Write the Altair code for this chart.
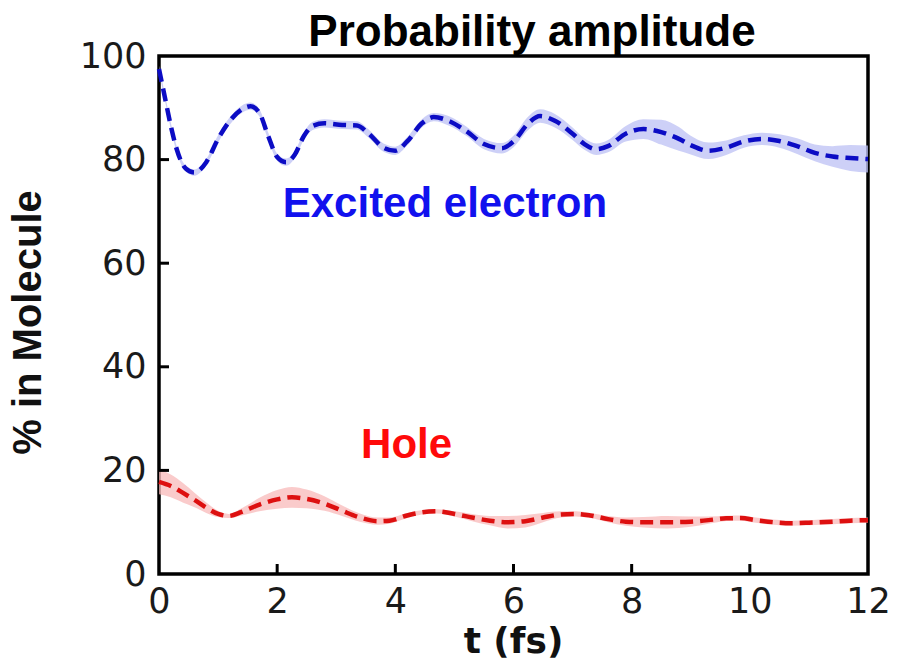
import altair as alt
import pandas as pd

# Excited electron (blue) mean curve and band half-width
blue_t = [0, 0.1, 0.2, 0.3, 0.45, 0.6, 0.8, 1.0, 1.2, 1.4, 1.55, 1.7, 1.85, 2.0, 2.15,
          2.3, 2.45, 2.6, 2.8, 3.1, 3.35, 3.55, 3.8, 4.0, 4.2, 4.45, 4.65, 4.9, 5.2,
          5.5, 5.8, 6.0, 6.25, 6.45, 6.7, 7.0, 7.2, 7.4, 7.6, 7.9, 8.2, 8.5, 8.8, 9.0,
          9.3, 9.6, 9.9, 10.2, 10.5, 10.8, 11.1, 11.4, 11.7, 12.0]
blue_y = [97.5, 92, 86.5, 82, 78.3, 77.5, 79.5, 84, 87.5, 89.7, 90.3, 89, 84.5, 80.5, 79.5,
          81, 84.5, 86.5, 87, 86.7, 86.6, 85, 82.3, 81.7, 83.5, 87, 88.2, 87.5, 85.5,
          83, 82.2, 83.5, 87, 88.4, 87.5, 85, 83, 82, 82.6, 85, 85.9, 85.3, 84, 82.8,
          81.7, 82.3, 83.5, 84, 83.6, 82.6, 81.3, 80.6, 80.3, 80.1]
blue_sd = [0.6, 0.6, 0.6, 0.6, 0.6, 0.6, 0.6, 0.7, 0.7, 0.7, 0.7, 0.7, 0.7, 0.7, 0.7,
           0.7, 0.7, 0.8, 0.8, 0.8, 0.8, 0.8, 0.8, 0.8, 0.8, 0.8, 0.8, 0.9, 0.9,
           1.0, 1.0, 1.1, 1.3, 1.3, 1.3, 1.2, 1.1, 1.1, 1.2, 1.5, 1.9, 2.4, 2.3, 1.8,
           1.6, 1.4, 1.2, 1.2, 1.3, 1.5, 1.6, 2.0, 2.5, 2.6]

# Hole (red) mean curve and band half-width
red_t = [0, 0.2, 0.4, 0.6, 0.8, 1.0, 1.18, 1.4, 1.7, 2.0, 2.25, 2.5, 2.8, 3.1, 3.4, 3.7,
         3.9, 4.2, 4.45, 4.7, 5.0, 5.3, 5.6, 5.9, 6.2, 6.5, 6.8, 7.05, 7.3, 7.6, 7.9,
         8.2, 8.6, 9.0, 9.3, 9.6, 9.85, 10.1, 10.4, 10.7, 11.0, 11.4, 11.7, 12.0]
red_y = [17.8, 17, 15.7, 14.3, 12.8, 11.6, 11.2, 12.0, 13.4, 14.4, 14.8, 14.5, 13.6, 12.2,
         10.9, 10.2, 10.3, 11.3, 11.9, 12.1, 11.6, 10.9, 10.3, 10.0, 10.2, 10.9, 11.5,
         11.6, 11.3, 10.6, 10.1, 10.0, 10.0, 10.1, 10.4, 10.75, 10.8, 10.4, 10.0, 9.8,
         9.9, 10.1, 10.3, 10.4]
red_sd = [2.4, 2.2, 1.9, 1.4, 1.0, 0.6, 0.4, 0.7, 1.3, 1.8, 2.0, 1.8, 1.4, 1.0, 0.8, 0.7,
          0.6, 0.5, 0.4, 0.4, 0.5, 0.7, 0.9, 1.2, 1.2, 0.9, 0.6, 0.5, 0.5, 0.6, 0.8,
          1.0, 1.2, 1.0, 0.7, 0.5, 0.5, 0.5, 0.5, 0.5, 0.5, 0.5, 0.5, 0.5]

x_ticks = [2, 4, 6, 8, 10]
y_ticks = [20, 40, 60, 80]

labels = ["Excited electron", "Hole"]
label_t = [4.84, 4.19]
label_y = [68.9, 22.4]
label_colors = ["#1111ee", "#ff0a0a"]

title_text = "Probability amplitude"

blue = pd.DataFrame({"t": blue_t, "y": blue_y,
                     "lo": [a - b for a, b in zip(blue_y, blue_sd)],
                     "hi": [a + b for a, b in zip(blue_y, blue_sd)]})
red = pd.DataFrame({"t": red_t, "y": red_y,
                    "lo": [a - b for a, b in zip(red_y, red_sd)],
                    "hi": [a + b for a, b in zip(red_y, red_sd)]})
lab = pd.DataFrame({"t": label_t, "y": label_y, "label": labels, "c": label_colors})

xs = alt.Scale(domain=[0, 12], nice=False, zero=False)
ys = alt.Scale(domain=[0, 100], nice=False)

x_axis = alt.Axis(values=list(range(0, 13, 2)), format="d", title="t (fs)", grid=False,
                  ticks=False, domain=False, labelFlush=False, labelFont="DejaVu Sans",
                  labelFontSize=35, labelColor="#1a1a1a", labelPadding=10,
                  titleFont="DejaVu Sans", titleFontSize=36, titleFontWeight="bold",
                  titleColor="#111111", titleBaseline="alphabetic", titleY=78,
                  titleX=354, titleAlign="center")
y_axis = alt.Axis(values=list(range(0, 101, 20)), format="d", title="% in Molecule",
                  grid=False, ticks=False, domain=False, labelFlush=False,
                  labelFont="DejaVu Sans", labelFontSize=35, labelColor="#1a1a1a",
                  labelPadding=13,
                  titleFont="Liberation Sans", titleFontSize=40, titleFontWeight="bold",
                  titleColor="#111111", titleAngle=270, titleAlign="center",
                  titleBaseline="middle", titleX=-131, titleY=266)

def band(df, fill):
    return alt.Chart(df).mark_area(color=fill, opacity=0.75, interpolate="monotone").encode(
        x=alt.X("t:Q", scale=xs, axis=x_axis),
        y=alt.Y("lo:Q", scale=ys, axis=y_axis),
        y2="hi:Q")

def line(df, col):
    return alt.Chart(df).mark_line(color=col, strokeWidth=4.5, strokeDash=[13, 7],
                                   interpolate="monotone").encode(
        x=alt.X("t:Q", scale=xs), y=alt.Y("y:Q", scale=ys))

xt = alt.Chart(pd.DataFrame({"t": x_ticks})).mark_tick(
    color="black", orient="vertical", thickness=3, size=10, opacity=1).encode(
    x=alt.X("t:Q", scale=xs), y=alt.value(513))
yt = alt.Chart(pd.DataFrame({"v": y_ticks})).mark_tick(
    color="black", orient="horizontal", thickness=3, size=10, opacity=1).encode(
    y=alt.Y("v:Q", scale=ys), x=alt.value(5))

txt = alt.Chart(lab).mark_text(font="Liberation Sans", fontWeight="bold", fontSize=42,
                               align="center", baseline="alphabetic").encode(
    x=alt.X("t:Q", scale=xs), y=alt.Y("y:Q", scale=ys),
    text="label:N", color=alt.Color("c:N", scale=None))

ttl = alt.Chart(pd.DataFrame({"label": [title_text]})).mark_text(
    font="Liberation Sans", fontWeight="bold", fontSize=44, color="black",
    align="center", baseline="alphabetic").encode(
    x=alt.value(373), y=alt.value(-10), text="label:N")

chart = alt.layer(
    band(blue, "#bcc0f4"), band(red, "#f8b9b9"),
    line(blue, "#0c0cc4"), line(red, "#dd1010"),
    xt, yt, txt, ttl
).properties(
    width=709, height=518,
    autosize=alt.AutoSizeParams(type="none"),
    padding={"left": 159, "top": 56, "right": 33, "bottom": 87}
).configure(background="white").configure_view(stroke="black", strokeWidth=3.5)

chart.save("out.html", embed_options={"renderer": "svg", "actions": False})
